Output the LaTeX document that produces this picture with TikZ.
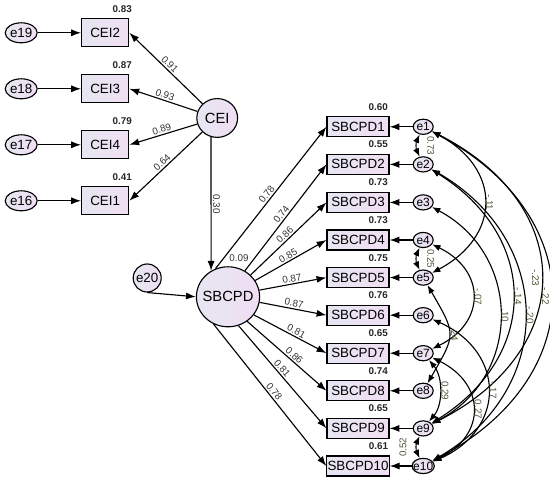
\documentclass[tikz,border=0pt]{standalone}
\usepackage{fontspec}
\setmainfont{Liberation Sans}
\usepackage{xcolor}
\usepackage{tikz}
\usetikzlibrary{arrows.meta, shapes.geometric}

\definecolor{mauA}{RGB}{230,230,242}
\definecolor{mauB}{RGB}{240,222,242}
\definecolor{mauso}{RGB}{85,85,55}

\begin{document}
\begin{tikzpicture}[>={Latex[length=7pt,width=5pt]},
    font=\fontsize{9.5}{11}\selectfont,
    latent/.style={ellipse, draw, thick, left color=mauA, right color=mauB,
        inner xsep=-3pt, inner ysep=0pt, font=\fontsize{10.5}{12}\selectfont},
    obs/.style={rectangle, draw, thick, left color=mauA, right color=mauB,
        inner xsep=0.5pt, minimum width=1.55cm, minimum height=0.5cm},
    errL/.style={ellipse, draw, thick, left color=mauA, right color=mauB,
        inner xsep=-1.5pt, inner ysep=0pt, minimum width=0.8cm, minimum height=0.5cm},
    errR/.style={ellipse, draw, thick, left color=mauA, right color=mauB,
        inner xsep=-1.5pt, inner ysep=0pt, minimum width=0.5cm, minimum height=0.38cm,
        font=\fontsize{8.5}{9}\selectfont},
    arr/.style={->, thick},
    coef/.style={font=\fontsize{7}{8}\selectfont, text=black!80, inner sep=1pt},
    rsq/.style={font=\fontsize{7}{8}\selectfont\bfseries, text=black!85, inner sep=1pt},
    cov/.style={{Latex[length=6pt,width=4.5pt]}-{Latex[length=6pt,width=4.5pt]}, thick},
    covlbl/.style={font=\fontsize{7}{8}\selectfont, text=mauso, inner sep=1pt}]

    \useasboundingbox (0,0) rectangle (13.75,12.05);

    % 1. Biến tiềm ẩn
    \node[latent, minimum width=1.02cm, minimum height=0.97cm] (cei) at (5.43,9.10) {CEI};
    \node[latent, minimum width=1.58cm, minimum height=1.5cm] (sbcpd) at (5.70,4.63) {SBCPD};
    \node[errL, minimum width=0.7cm, minimum height=0.7cm, inner xsep=-2pt] (e20) at (3.68,5.10) {e20};

    % 2. Thang đo CEI
    \node[obs, minimum width=1.18cm, minimum height=0.7cm] (cei2) at (2.63,11.23) {CEI2};
    \node[obs, minimum width=1.18cm, minimum height=0.7cm] (cei3) at (2.63,9.83) {CEI3};
    \node[obs, minimum width=1.18cm, minimum height=0.7cm] (cei4) at (2.63,8.43) {CEI4};
    \node[obs, minimum width=1.18cm, minimum height=0.7cm] (cei1) at (2.63,7.03) {CEI1};

    \node[errL] (e19) at (0.53,11.23) {e19};
    \node[errL] (e18) at (0.53,9.83) {e18};
    \node[errL] (e17) at (0.53,8.43) {e17};
    \node[errL] (e16) at (0.53,7.03) {e16};

    \node[rsq, anchor=south east] (r2cei2) at ([xshift=3pt,yshift=2.8pt]cei2.north east) {0.83};
    \node[rsq, anchor=south east] (r2cei3) at ([xshift=3pt,yshift=2.8pt]cei3.north east) {0.87};
    \node[rsq, anchor=south east] (r2cei4) at ([xshift=3pt,yshift=2.8pt]cei4.north east) {0.79};
    \node[rsq, anchor=south east] (r2cei1) at ([xshift=3pt,yshift=2.8pt]cei1.north east) {0.41};

    \draw[arr] (e19) -- (cei2);
    \draw[arr] (e18) -- (cei3);
    \draw[arr] (e17) -- (cei4);
    \draw[arr] (e16) -- (cei1);

    \draw[arr] (cei) -- node[coef, sloped, above] {0.91} (cei2.east);
    \draw[arr] (cei) -- node[coef, sloped, above] {0.93} (cei3.east);
    \draw[arr] (cei) -- node[coef, sloped, above] {0.89} (cei4.east);
    \draw[arr] (cei) -- node[coef, sloped, above] {0.64} (cei1.east);

    % 3. CEI -> SBCPD
    \draw[arr] (cei.-108) -- node[coef, sloped, allow upside down, above] {0.30} (sbcpd.123);
    \draw[arr] (e20.south) -- (sbcpd.west);
    \node[coef, anchor=south] (r2sbcpd) at ([xshift=7.8pt,yshift=2pt]sbcpd.north) {0.09};

    % 4. Thang đo SBCPD
    \node[obs] (sb1) at (8.95,8.88) {SBCPD1};
    \node[obs] (sb2) at (8.95,7.94) {SBCPD2};
    \node[obs] (sb3) at (8.95,6.99) {SBCPD3};
    \node[obs] (sb4) at (8.95,6.05) {SBCPD4};
    \node[obs] (sb5) at (8.95,5.11) {SBCPD5};
    \node[obs] (sb6) at (8.95,4.17) {SBCPD6};
    \node[obs] (sb7) at (8.95,3.22) {SBCPD7};
    \node[obs] (sb8) at (8.95,2.28) {SBCPD8};
    \node[obs] (sb9) at (8.95,1.34) {SBCPD9};
    \node[obs] (sb10) at (8.95,0.40) {SBCPD10};

    \node[errR] (e1) at (10.58,8.88) {e1};
    \node[errR] (e2) at (10.58,7.94) {e2};
    \node[errR] (e3) at (10.58,6.99) {e3};
    \node[errR] (e4) at (10.58,6.05) {e4};
    \node[errR] (e5) at (10.58,5.11) {e5};
    \node[errR] (e6) at (10.58,4.17) {e6};
    \node[errR] (e7) at (10.58,3.22) {e7};
    \node[errR] (e8) at (10.58,2.28) {e8};
    \node[errR] (e9) at (10.58,1.34) {e9};
    \node[errR] (e10) at (10.58,0.40) {e10};

    \node[rsq, anchor=south east] (r2sb1) at ([yshift=3pt]sb1.north east) {0.60};
    \node[rsq, anchor=south east] (r2sb2) at ([yshift=3pt]sb2.north east) {0.55};
    \node[rsq, anchor=south east] (r2sb3) at ([yshift=3pt]sb3.north east) {0.73};
    \node[rsq, anchor=south east] (r2sb4) at ([yshift=3pt]sb4.north east) {0.73};
    \node[rsq, anchor=south east] (r2sb5) at ([yshift=3pt]sb5.north east) {0.75};
    \node[rsq, anchor=south east] (r2sb6) at ([yshift=3pt]sb6.north east) {0.76};
    \node[rsq, anchor=south east] (r2sb7) at ([yshift=3pt]sb7.north east) {0.65};
    \node[rsq, anchor=south east] (r2sb8) at ([yshift=3pt]sb8.north east) {0.74};
    \node[rsq, anchor=south east] (r2sb9) at ([yshift=3pt]sb9.north east) {0.65};
    \node[rsq, anchor=south east] (r2sb10) at ([yshift=3pt]sb10.north east) {0.61};

    \draw[arr] (sbcpd.114) -- node[coef, sloped, above] {0.78} (sb1.west);
    \draw[arr] (sbcpd.57) -- node[coef, sloped, above] {0.74} (sb2.west);
    \draw[arr] (sbcpd.44) -- node[coef, sloped, above] {0.86} (sb3.west);
    \draw[arr] (sbcpd.31) -- node[coef, sloped, above] {0.85} (sb4.west);
    \draw[arr] (sbcpd.12) -- node[coef, sloped, above] {0.87} (sb5.west);
    \draw[arr] (sbcpd.-10) -- node[coef, sloped, above] {0.87} (sb6.west);
    \draw[arr] (sbcpd.-35) -- node[coef, sloped, above, pos=0.55] {0.81} (sb7.west);
    \draw[arr] (sbcpd.-52) -- node[coef, sloped, above, pos=0.55] {0.86} (sb8.west);
    \draw[arr] (sbcpd.-70) -- node[coef, sloped, above, pos=0.45] {0.81} (sb9.west);
    \draw[arr] (sbcpd.-118) -- node[coef, sloped, above] {0.78} (sb10.west);

    \draw[arr] (e1) -- (sb1);
    \draw[arr] (e2) -- (sb2);
    \draw[arr] (e3) -- (sb3);
    \draw[arr] (e4) -- (sb4);
    \draw[arr] (e5) -- (sb5);
    \draw[arr] (e6) -- (sb6);
    \draw[arr] (e7) -- (sb7);
    \draw[arr] (e8) -- (sb8);
    \draw[arr] (e9) -- (sb9);
    \draw[arr] (e10) -- (sb10);

    % 5. Hiệp phương sai giữa các sai số
    \draw[cov] (e1) to[bend right=25] node[covlbl, sloped, above=6pt] {0.73} (e2);
    \draw[cov] (e4) to[bend right=25] node[covlbl, sloped, above=6pt] {0.25} (e5);
    \draw[cov] (e9) to[bend right=25] node[covlbl, sloped, above=6pt] {0.52} (e10);

    \draw[cov] (e1) to[out=-28, in=28, looseness=1.43] node[covlbl, sloped, above] {-.11} (e5);
    \draw[cov] (e1) to[out=-27, in=27, looseness=1.43] node[covlbl, sloped, below] {-.23} (e9);
    \draw[cov] (e1) to[out=-28, in=28, looseness=1.39] node[covlbl, sloped, below] {-.22} (e10);
    \draw[cov] (e2) to[out=-32, in=32, looseness=1.29] node[covlbl, sloped, above] {-.14} (e9);
    \draw[cov] (e2) to[out=-30, in=30, looseness=1.25] node[covlbl, sloped, above] {-.20} (e10);
    \draw[cov] (e3) to[out=-28, in=28, looseness=1.21] node[covlbl, sloped, above] {.10} (e9);
    \draw[cov] (e4) to[out=-26, in=26, looseness=1.47] node[covlbl, sloped, above] {-.07} (e7);
    \draw[cov] (e5) to[out=-60, in=60, looseness=1.5] node[covlbl, sloped, above] {.24} (e8);
    \draw[cov] (e6) to[out=-24, in=24, looseness=1.44] node[covlbl, sloped, above] {-.17} (e10);
    \draw[cov] (e7) to[out=-26, in=26, looseness=1.47] node[covlbl, sloped, above] {0.27} (e10);
    \draw[cov] (e7) to[out=-50, in=50, looseness=0.92] node[covlbl, sloped, above] {0.29} (e9);
\end{tikzpicture}
\end{document}
